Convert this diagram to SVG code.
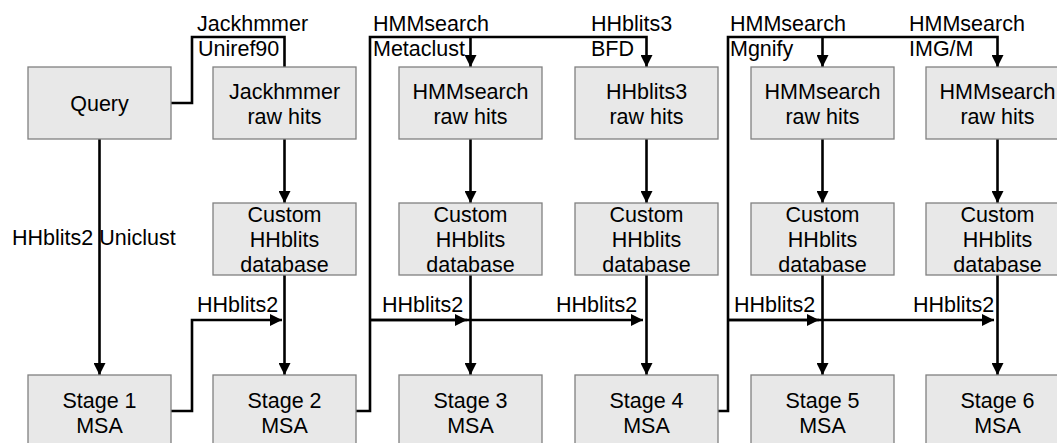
<svg xmlns="http://www.w3.org/2000/svg" width="1057" height="443" viewBox="0 0 1057 443">
<style>
.box{fill:#e8e8e8;stroke:#808080;stroke-width:1.3}
.t{font-family:"Liberation Sans",Arial,sans-serif;font-size:21.5px;fill:#000}
.c{text-anchor:middle}
.ln{fill:none;stroke:#000;stroke-width:2.6;stroke-linejoin:miter}
</style>
<defs>
<marker id="ah" markerUnits="userSpaceOnUse" markerWidth="13" markerHeight="12" refX="12" refY="6" orient="auto">
<path d="M0,0 L12,6 L0,12 z" fill="#000"/>
</marker>
</defs>
<rect width="1057" height="443" fill="#fff"/>

<g id="connectors">
<path class="ln" d="M171,103 H192 V37 H284.5 V67"/>
<path class="ln" d="M99.5,139 V375" marker-end="url(#ah)"/>
<path class="ln" d="M284.5,139 V203" marker-end="url(#ah)"/>
<path class="ln" d="M284.5,275 V375" marker-end="url(#ah)"/>
<path class="ln" d="M171,411 H192 V320 H282" marker-end="url(#ah)"/>

<path class="ln" d="M356,411 H370 V37 H646.5 V67" marker-end="url(#ah)"/>
<path class="ln" d="M470.5,37 V67" marker-end="url(#ah)"/>
<path class="ln" d="M370,320 H643" marker-end="url(#ah)"/>
<path class="ln" d="M370,320 H467" marker-end="url(#ah)"/>
<path class="ln" d="M470.5,139 V203" marker-end="url(#ah)"/>
<path class="ln" d="M470.5,275 V375" marker-end="url(#ah)"/>
<path class="ln" d="M646.5,139 V203" marker-end="url(#ah)"/>
<path class="ln" d="M646.5,275 V375" marker-end="url(#ah)"/>

<path class="ln" d="M718,411 H728 V37 H997.5 V67" marker-end="url(#ah)"/>
<path class="ln" d="M822.5,37 V67" marker-end="url(#ah)"/>
<path class="ln" d="M728,320 H994" marker-end="url(#ah)"/>
<path class="ln" d="M728,320 H819" marker-end="url(#ah)"/>
<path class="ln" d="M822.5,139 V203" marker-end="url(#ah)"/>
<path class="ln" d="M822.5,275 V375" marker-end="url(#ah)"/>
<path class="ln" d="M997.5,139 V203" marker-end="url(#ah)"/>
<path class="ln" d="M997.5,275 V375" marker-end="url(#ah)"/>

<text class="t" x="197" y="30.5">Jackhmmer</text>
<text class="t" x="198" y="56">Uniref90</text>
<text class="t" x="12" y="245">HHblits2 Uniclust</text>
<text class="t" x="197" y="311.5">HHblits2</text>
<text class="t" x="373" y="30.5">HMMsearch</text>
<text class="t" x="373" y="56">Metaclust</text>
<text class="t" x="591" y="30.5">HHblits3</text>
<text class="t" x="591" y="56">BFD</text>
<text class="t" x="382" y="311.5">HHblits2</text>
<text class="t" x="556" y="311.5">HHblits2</text>
<text class="t" x="730" y="30.5">HMMsearch</text>
<text class="t" x="730" y="56">Mgnify</text>
<text class="t" x="909" y="30.5">HMMsearch</text>
<text class="t" x="909" y="56">IMG/M</text>
<text class="t" x="734" y="311.5">HHblits2</text>
<text class="t" x="913" y="311.5">HHblits2</text>
</g>

<g id="query"><rect class="box" x="28" y="67" width="143" height="72"/><text class="t c" x="99.5" y="111">Query</text></g>
<g id="jack-hits"><rect class="box" x="213" y="67" width="143" height="72"/><text class="t c" x="284.5" y="99">Jackhmmer</text><text class="t c" x="284.5" y="124">raw hits</text></g>
<g id="hmm-hits-1"><rect class="box" x="399" y="67" width="143" height="72"/><text class="t c" x="470.5" y="99">HMMsearch</text><text class="t c" x="470.5" y="124">raw hits</text></g>
<g id="hhb3-hits"><rect class="box" x="575" y="67" width="143" height="72"/><text class="t c" x="646.5" y="99">HHblits3</text><text class="t c" x="646.5" y="124">raw hits</text></g>
<g id="hmm-hits-2"><rect class="box" x="751" y="67" width="143" height="72"/><text class="t c" x="822.5" y="99">HMMsearch</text><text class="t c" x="822.5" y="124">raw hits</text></g>
<g id="hmm-hits-3"><rect class="box" x="926" y="67" width="143" height="72"/><text class="t c" x="997.5" y="99">HMMsearch</text><text class="t c" x="997.5" y="124">raw hits</text></g>

<g id="db-2"><rect class="box" x="213" y="203" width="143" height="72"/><text class="t c" x="284.5" y="221.5">Custom</text><text class="t c" x="284.5" y="246.5">HHblits</text><text class="t c" x="284.5" y="272">database</text></g>
<g id="db-3"><rect class="box" x="399" y="203" width="143" height="72"/><text class="t c" x="470.5" y="221.5">Custom</text><text class="t c" x="470.5" y="246.5">HHblits</text><text class="t c" x="470.5" y="272">database</text></g>
<g id="db-4"><rect class="box" x="575" y="203" width="143" height="72"/><text class="t c" x="646.5" y="221.5">Custom</text><text class="t c" x="646.5" y="246.5">HHblits</text><text class="t c" x="646.5" y="272">database</text></g>
<g id="db-5"><rect class="box" x="751" y="203" width="143" height="72"/><text class="t c" x="822.5" y="221.5">Custom</text><text class="t c" x="822.5" y="246.5">HHblits</text><text class="t c" x="822.5" y="272">database</text></g>
<g id="db-6"><rect class="box" x="926" y="203" width="143" height="72"/><text class="t c" x="997.5" y="221.5">Custom</text><text class="t c" x="997.5" y="246.5">HHblits</text><text class="t c" x="997.5" y="272">database</text></g>

<g id="stage-1"><rect class="box" x="28" y="375" width="143" height="72"/><text class="t c" x="99.5" y="407.5">Stage 1</text><text class="t c" x="99.5" y="432.5">MSA</text></g>
<g id="stage-2"><rect class="box" x="213" y="375" width="143" height="72"/><text class="t c" x="284.5" y="407.5">Stage 2</text><text class="t c" x="284.5" y="432.5">MSA</text></g>
<g id="stage-3"><rect class="box" x="399" y="375" width="143" height="72"/><text class="t c" x="470.5" y="407.5">Stage 3</text><text class="t c" x="470.5" y="432.5">MSA</text></g>
<g id="stage-4"><rect class="box" x="575" y="375" width="143" height="72"/><text class="t c" x="646.5" y="407.5">Stage 4</text><text class="t c" x="646.5" y="432.5">MSA</text></g>
<g id="stage-5"><rect class="box" x="751" y="375" width="143" height="72"/><text class="t c" x="822.5" y="407.5">Stage 5</text><text class="t c" x="822.5" y="432.5">MSA</text></g>
<g id="stage-6"><rect class="box" x="926" y="375" width="143" height="72"/><text class="t c" x="997.5" y="407.5">Stage 6</text><text class="t c" x="997.5" y="432.5">MSA</text></g>
</svg>
